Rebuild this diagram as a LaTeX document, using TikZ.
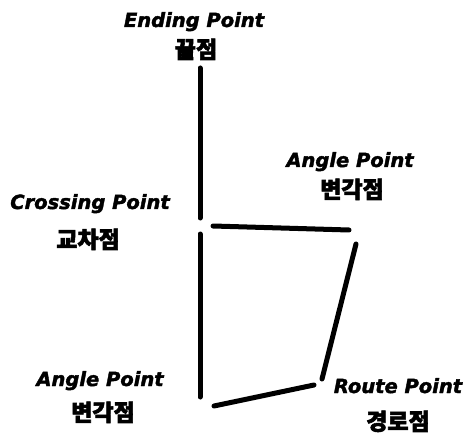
\documentclass[tikz,border=0pt]{standalone}
\usepackage{fontspec}
\newfontfamily\latfont{DejaVu Sans Bold Oblique}[FakeBold=2]
\newfontfamily\krfont{Noto Sans CJK KR}[FakeBold=2.5]
\begin{document}
\begin{tikzpicture}[x=1bp,y=-1bp,
  lat/.style={font=\latfont\fontsize{19.5bp}{22bp}\selectfont, anchor=base, inner sep=0pt},
  kr/.style={font=\krfont\bfseries\fontsize{23bp}{26bp}\selectfont, anchor=base, inner sep=0pt},
  seg/.style={line width=5bp, line cap=round}]
\useasboundingbox (0,0) rectangle (467,433);
% labels
\node[lat] (endE) at (194,27) {Ending Point};
\node[kr] (endK) at (196,58) {끝점};
\node[lat] (angTE) at (350,167) {Angle Point};
\node[kr] (angTK) at (352,198) {변각점};
\node[lat] (crsE) at (90,209) {Crossing Point};
\node[kr] (crsK) at (88,248) {교차점};
\node[lat] (angBE) at (100,386) {Angle Point};
\node[kr] (angBK) at (103,421) {변각점};
\node[lat] (rteE) at (398,393) {Route Point};
\node[kr] (rteK) at (398,430) {경로점};
% path points
\coordinate (p1) at (200,68);
\coordinate (p2) at (200,218);
\coordinate (p3) at (200,234);
\coordinate (p4) at (200,397);
\coordinate (q1) at (213,226);
\coordinate (q2) at (349,230);
\coordinate (r1) at (356,244);
\coordinate (r2) at (322,379);
\coordinate (s1) at (314,385);
\coordinate (s2) at (214,406);
\draw[seg] (p1) -- (p2);
\draw[seg] (p3) -- (p4);
\draw[seg] (q1) -- (q2);
\draw[seg] (r1) -- (r2);
\draw[seg] (s1) -- (s2);
\end{tikzpicture}
\end{document}
